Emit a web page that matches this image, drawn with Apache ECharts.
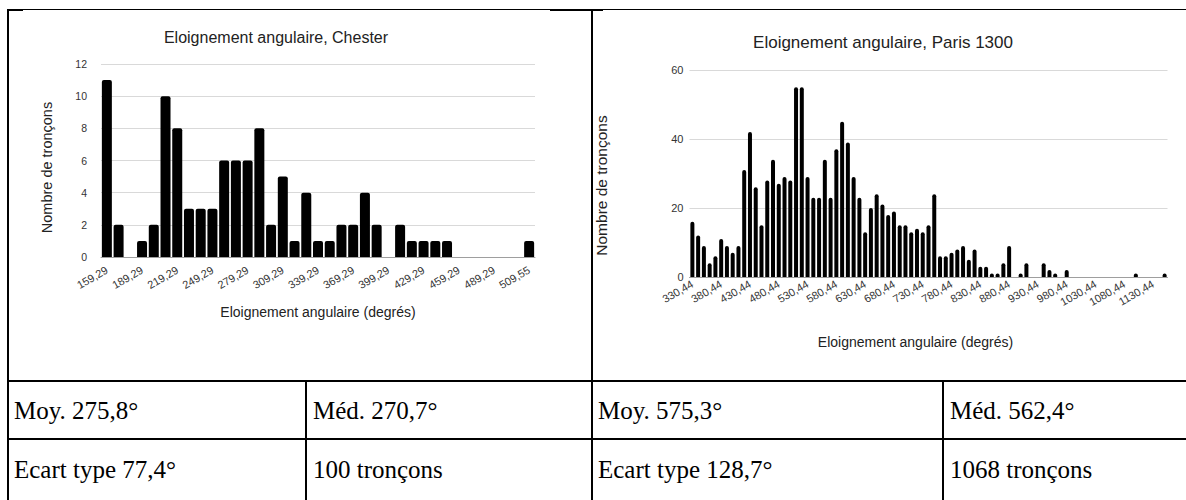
<!DOCTYPE html>
<html>
<head>
<meta charset="utf-8">
<script src="https://cdn.jsdelivr.net/npm/echarts@6/dist/echarts.min.js"></script>
<style>
html,body{margin:0;padding:0;background:#fff;}
#chart{width:1186px;height:500px;}
</style>
</head>
<body>
<div id="chart"></div>
<script>
// ---- Data ----
const chesterTitle = "Eloignement angulaire, Chester";
const parisTitle = "Eloignement angulaire, Paris 1300";
const yName = "Nombre de tronçons";
const xName = "Eloignement angulaire (degrés)";

const chesterCats = ["159,29","169,29","179,29","189,29","199,29","209,29","219,29","229,29","239,29","249,29",
  "259,29","269,29","279,29","289,29","299,29","309,29","319,29","329,29","339,29","349,29",
  "359,29","369,29","379,29","389,29","399,29","409,29","419,29","429,29","439,29","449,29",
  "459,29","469,29","479,29","489,29","499,29","509,29","509,55"];
const chesterValues = [11,2,0,1,2,10,8,3,3,3,
  6,6,6,8,2,5,1,4,1,1,
  2,2,4,2,0,2,1,1,1,1,
  0,0,0,0,0,0,1];

const parisCats = ["330,44","340,44","350,44","360,44","370,44","380,44","390,44","400,44","410,44","420,44",
  "430,44","440,44","450,44","460,44","470,44","480,44","490,44","500,44","510,44","520,44",
  "530,44","540,44","550,44","560,44","570,44","580,44","590,44","600,44","610,44","620,44",
  "630,44","640,44","650,44","660,44","670,44","680,44","690,44","700,44","710,44","720,44",
  "730,44","740,44","750,44","760,44","770,44","780,44","790,44","800,44","810,44","820,44",
  "830,44","840,44","850,44","860,44","870,44","880,44","890,44","900,44","910,44","920,44",
  "930,44","940,44","950,44","960,44","970,44","980,44","990,44","1000,44","1010,44","1020,44",
  "1030,44","1040,44","1050,44","1060,44","1070,44","1080,44","1090,44","1100,44","1110,44","1120,44",
  "1130,44","1140,44","1150,44"];
const parisValues = [16,12,9,4,6,11,9,7,9,31,
  42,26,15,28,34,27,29,28,55,55,
  29,23,23,34,23,37,45,39,29,23,
  13,20,24,21,18,19,15,15,13,14,
  13,15,24,6,6,7,8,9,5,8,
  3,3,1,1,4,9,0,1,4,0,
  0,4,2,1,0,2,0,0,0,0,
  0,0,0,0,0,0,0,1,0,0,
  0,0,1];

const chesterTicks = [0,2,4,6,8,10,12];
const parisTicks = [0,20,40,60];

const tableLeft = [["Moy. 275,8°","Méd. 270,7°"],["Ecart type 77,4°","100 tronçons"]];
const tableRight = [["Moy. 575,3°","Méd. 562,4°"],["Ecart type 128,7°","1068 tronçons"]];

// ---- Chart ----
const chart = echarts.init(document.getElementById('chart'), null, {renderer:'svg'});
const sans = "Liberation Sans, Arial, sans-serif";
const serif = "Liberation Serif, serif";

function xAxisCfg(gi, cats, interval, fs, margin, gap, nfs, pad){
  return {type:'category', gridIndex:gi, data:cats,
    axisLine:{show:true, lineStyle:{color:'#9e9e9e', width:1}},
    axisTick:{show:false},
    axisLabel:{interval:interval, rotate:30, fontSize:fs, color:'#333', fontFamily:sans, margin:margin},
    name:xName, nameLocation:'middle', nameGap:gap,
    nameTextStyle:{fontSize:nfs, color:'#222', fontFamily:sans, padding:pad}};
}
function yAxisCfg(gi, ticks, fs, margin, gap, nfs, pad){
  return {type:'value', gridIndex:gi, min:ticks[0], max:ticks[ticks.length-1], interval:ticks[1]-ticks[0],
    axisLine:{show:false}, axisTick:{show:false},
    splitLine:{lineStyle:{color:'#d9d9d9', width:1}},
    axisLabel:{fontSize:fs, color:'#333', fontFamily:sans, margin:margin},
    name:yName, nameLocation:'middle', nameGap:gap,
    nameTextStyle:{fontSize:nfs, color:'#222', fontFamily:sans, padding:pad}};
}

const graphics = [];
function line(x1,y1,x2,y2,w){
  graphics.push({type:'line', silent:true, shape:{x1:x1,y1:y1,x2:x2,y2:y2}, style:{stroke:'#000', lineWidth:w}});
}
function txt(x,y,s){
  graphics.push({type:'text', silent:true, x:x, y:y, style:{text:s, fill:'#000', font:'25px '+serif, align:'left', verticalAlign:'middle'}});
}
// borders
line(8,9.5,1186,9.5,1);
line(8,10,23,10,2);
line(550,10,603,10,2);
line(8,9,8,500,2);
line(592,9,592,500,2);
line(8,381,1186,381,2);
line(8,439,1186,439,2);
line(306,381,306,500,2);
line(943,381,943,500,2);
// table text
txt(14,410,tableLeft[0][0]); txt(313,410,tableLeft[0][1]);
txt(14,469,tableLeft[1][0]); txt(313,469,tableLeft[1][1]);
txt(598,410,tableRight[0][0]); txt(950,410,tableRight[0][1]);
txt(598,469,tableRight[1][0]); txt(950,469,tableRight[1][1]);

chart.setOption({
  animation:false,
  backgroundColor:'#fff',
  title:[
    {text:chesterTitle, left:271, top:32, textAlign:'center', textVerticalAlign:'middle',
     textStyle:{fontSize:16, fontWeight:'normal', color:'#222', fontFamily:sans}},
    {text:parisTitle, left:878, top:37, textAlign:'center', textVerticalAlign:'middle',
     textStyle:{fontSize:17, fontWeight:'normal', color:'#222', fontFamily:sans}}
  ],
  grid:[
    {left:101, top:64, width:434, height:193, containLabel:false},
    {left:689.5, top:70, width:478, height:207, containLabel:false}
  ],
  xAxis:[ xAxisCfg(0, chesterCats, 2, 11, 12, 48, 14, [0,0,0,0]),
          xAxisCfg(1, parisCats, 4, 11, 6, 58, 14, [0,26,0,0]) ],
  yAxis:[ yAxisCfg(0, chesterTicks, 10.5, 14, 47, 14.5, [0,14,0,0]),
          yAxisCfg(1, parisTicks, 11, 6, 80, 15.5, [0,24,0,0]) ],
  series:[
    {type:'bar', xAxisIndex:0, yAxisIndex:0, data:chesterValues, barWidth:10,
     itemStyle:{color:'#000', borderRadius:[2,2,0,0]}},
    {type:'bar', xAxisIndex:1, yAxisIndex:1, data:parisValues, barWidth:4,
     itemStyle:{color:'#000', borderRadius:[2,2,0,0]}}
  ],
  graphic:graphics
});
</script>
</body>
</html>
